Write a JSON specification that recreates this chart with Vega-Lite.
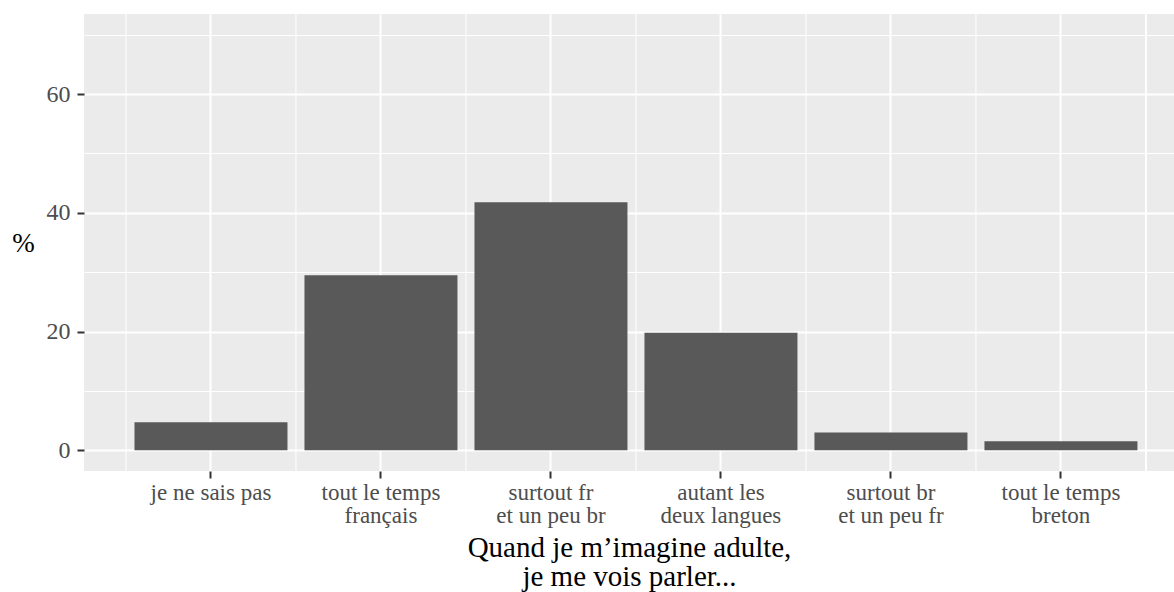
{
  "$schema": "https://vega.github.io/schema/vega-lite/v6.json",
  "width": 1090,
  "height": 457,
  "autosize": {"type": "none"},
  "padding": {"left": 84, "top": 14, "right": 0, "bottom": 121},
  "background": "white",
  "config": {
    "view": {"fill": "#EBEBEB", "stroke": null},
    "font": "Liberation Serif",
    "axis": {
      "domain": false,
      "labelFont": "Liberation Serif",
      "titleFont": "Liberation Serif",
      "labelColor": "#4D4D4D",
      "titleColor": "#000000",
      "tickColor": "#333333",
      "gridColor": "#FFFFFF"
    }
  },
  "data": {
    "values": [
      {"cat": "je ne sais pas", "pct": 4.7},
      {"cat": "tout le temps\nfrançais", "pct": 29.5},
      {"cat": "surtout fr\net un peu br", "pct": 41.8},
      {"cat": "autant les\ndeux langues", "pct": 19.8},
      {"cat": "surtout br\net un peu fr", "pct": 3.0},
      {"cat": "tout le temps\nbreton", "pct": 1.5}
    ]
  },
  "encoding": {
    "x": {
      "field": "cat",
      "type": "nominal",
      "sort": null,
      "scale": {"paddingInner": 0.1, "paddingOuter": 0.256, "align": 0.58},
      "axis": {
        "title": ["Quand je m’imagine adulte,", "je me vois parler..."],
        "titleFontSize": 29,
        "titleFontWeight": "normal",
        "titleBaseline": "alphabetic",
        "titleY": 85,
        "titleLineHeight": 29,
        "labelExpr": "split(datum.value, '\\n')",
        "labelFontSize": 23,
        "labelLineHeight": 23,
        "labelAngle": 0,
        "labelPadding": 3,
        "labelBaseline": "top",
        "tickSize": 7,
        "tickWidth": 2,
        "tickBand": "center",
        "grid": true,
        "gridWidth": 2
      }
    }
  },
  "layer": [
    {
      "mark": {"type": "rule", "color": "#FFFFFF", "strokeWidth": 1},
      "encoding": {
        "x": {"field": "cat", "type": "nominal", "sort": null, "bandPosition": -0.0556}
      }
    },
    {
      "mark": {"type": "rule", "color": "#FFFFFF", "strokeWidth": 1},
      "encoding": {
        "x": {"datum": "tout le temps\nbreton", "type": "nominal", "bandPosition": 1.0556}
      }
    },
    {
      "mark": {"type": "bar", "color": "#595959"},
      "encoding": {
        "y": {
          "field": "pct",
          "type": "quantitative",
          "scale": {"domain": [-3.5, 73.5], "nice": false, "zero": false},
          "axis": {
            "title": "%",
            "titleAngle": 0,
            "titleFontSize": 27,
            "titleFontWeight": "normal",
            "titleAlign": "center",
            "titleBaseline": "middle",
            "titleX": -61,
            "titleY": 229,
            "values": [0, 10, 20, 30, 40, 50, 60, 70],
            "labelExpr": "datum.value % 20 === 0 ? datum.label : ''",
            "labelFontSize": 24,
            "labelPadding": 7,
            "tickSize": 7,
            "tickWidth": 2,
            "tickOpacity": {"condition": {"test": "datum.value % 20 === 0", "value": 1}, "value": 0},
            "grid": true,
            "gridWidth": {"condition": {"test": "datum.value % 20 === 0", "value": 2}, "value": 1}
          }
        }
      }
    }
  ]
}
